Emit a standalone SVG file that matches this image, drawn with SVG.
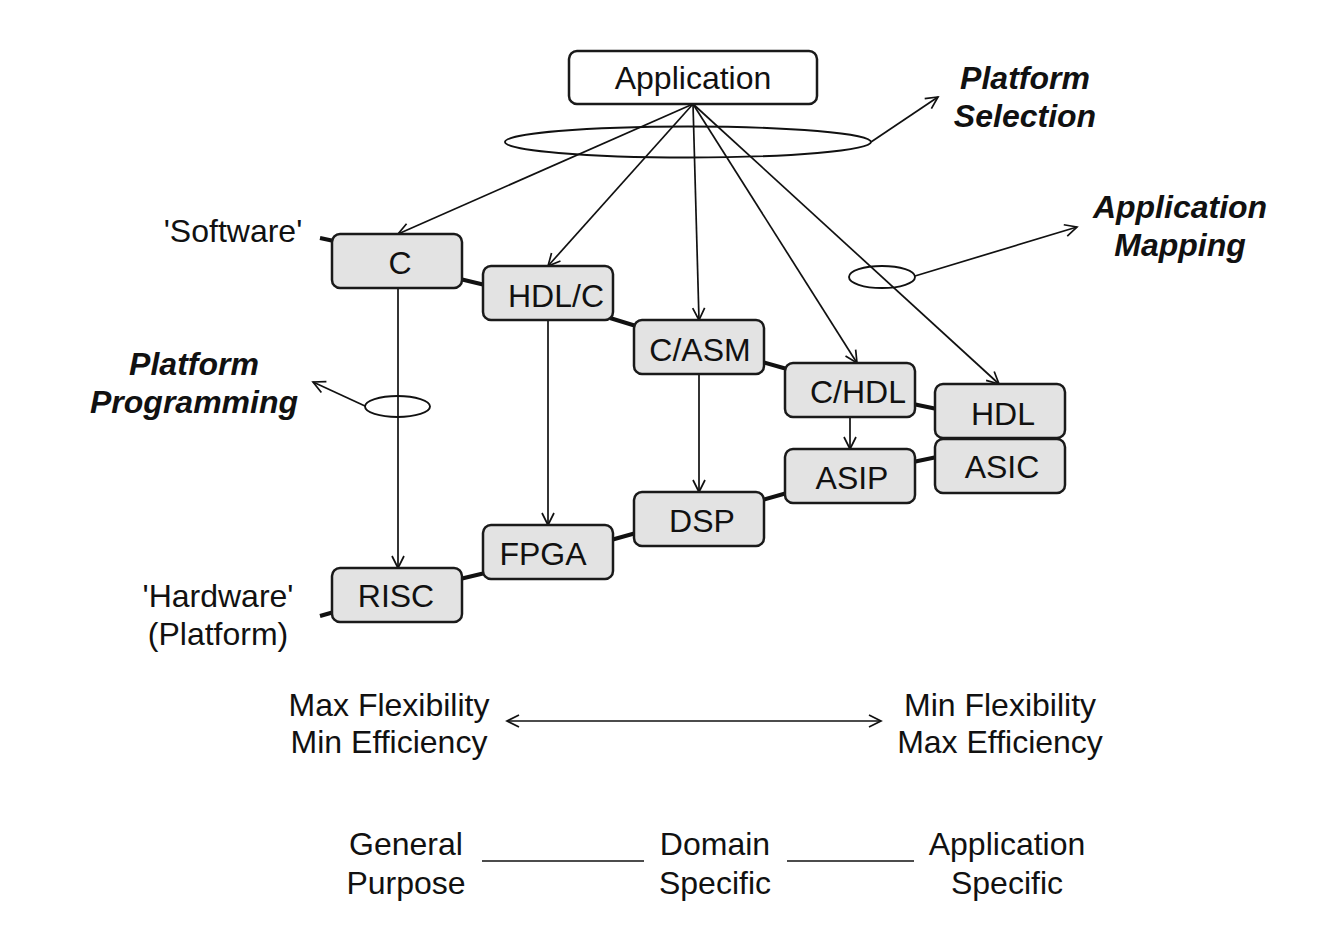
<svg xmlns="http://www.w3.org/2000/svg" width="1342" height="928" viewBox="0 0 1342 928">
<defs>
<marker id="vee" markerUnits="userSpaceOnUse" markerWidth="16" markerHeight="16" viewBox="0 0 16 16" refX="14" refY="8" orient="auto-start-reverse">
<path d="M2,2 L14,8 L2,14" fill="none" stroke="#111" stroke-width="1.7"/>
</marker>
<style>
.t{font-family:"Liberation Sans",Arial,sans-serif;font-size:32px;fill:#111;text-anchor:middle}
.bi{font-family:"Liberation Sans",Arial,sans-serif;font-size:32px;font-weight:bold;font-style:italic;fill:#111;text-anchor:middle}
.box{fill:#e3e3e3;stroke:#1a1a1a;stroke-width:2.5}
.app{fill:#fff;stroke:#1a1a1a;stroke-width:2.5}
.ln{stroke:#111;stroke-width:1.7;fill:none}
.arr{stroke:#111;stroke-width:1.7;fill:none;marker-end:url(#vee)}
.thick{stroke:#111;stroke-width:4;fill:none}
.ell{fill:none;stroke:#111;stroke-width:1.9}
</style>
</defs>

<g id="connectors">
<line class="thick" x1="320" y1="238" x2="334" y2="241"/>
<line class="thick" x1="460" y1="279" x2="485" y2="285"/>
<line class="thick" x1="610" y1="318" x2="636" y2="326"/>
<line class="thick" x1="762" y1="362" x2="787" y2="369"/>
<line class="thick" x1="913" y1="404" x2="937" y2="409"/>
<line class="thick" x1="913" y1="462" x2="937" y2="457"/>
<line class="thick" x1="762" y1="500" x2="787" y2="493"/>
<line class="thick" x1="611" y1="540" x2="636" y2="533"/>
<line class="thick" x1="460" y1="579" x2="485" y2="573"/>
<line class="thick" x1="320" y1="616" x2="334" y2="612"/>

<line class="arr" x1="693" y1="104" x2="398" y2="234"/>
<line class="arr" x1="693" y1="104" x2="548" y2="266"/>
<line class="arr" x1="693" y1="104" x2="699" y2="320"/>
<line class="arr" x1="693" y1="104" x2="857" y2="363"/>
<line class="arr" x1="693" y1="104" x2="999" y2="384"/>

<line class="arr" x1="398" y1="288" x2="398" y2="568"/>
<line class="arr" x1="548" y1="320" x2="548" y2="525"/>
<line class="arr" x1="699" y1="374" x2="699" y2="492"/>
<line class="arr" x1="850" y1="417" x2="850" y2="449"/>

<ellipse class="ell" cx="688" cy="142" rx="183" ry="15.5"/>
<line class="arr" x1="871" y1="142" x2="938" y2="97"/>
<ellipse class="ell" cx="397.5" cy="406.5" rx="32.5" ry="10.5"/>
<line class="arr" x1="365" y1="406" x2="313" y2="382"/>
<ellipse class="ell" cx="882" cy="277" rx="33" ry="11"/>
<line class="arr" x1="915" y1="276" x2="1077" y2="227"/>

<line class="ln" x1="507" y1="721" x2="881" y2="721" marker-start="url(#vee)" marker-end="url(#vee)"/>
<line class="ln" x1="482" y1="861" x2="644" y2="861"/>
<line class="ln" x1="787" y1="861" x2="914" y2="861"/>
</g>

<g id="n-application"><rect class="app" x="569" y="51" width="248" height="53" rx="8"/><text class="t" x="693" y="89">Application</text></g>
<g id="n-c"><rect class="box" x="332" y="234" width="130" height="54" rx="8"/><text class="t" x="400" y="274">C</text></g>
<g id="n-hdlc"><rect class="box" x="483" y="266" width="130" height="54" rx="8"/><text class="t" x="556" y="307">HDL/C</text></g>
<g id="n-casm"><rect class="box" x="634" y="320" width="130" height="54" rx="8"/><text class="t" x="700" y="361">C/ASM</text></g>
<g id="n-chdl"><rect class="box" x="785" y="363" width="130" height="54" rx="8"/><text class="t" x="858" y="403">C/HDL</text></g>
<g id="n-hdl"><rect class="box" x="935" y="384" width="130" height="54" rx="8"/><text class="t" x="1003" y="425">HDL</text></g>
<g id="n-asic"><rect class="box" x="935" y="439" width="130" height="54" rx="8"/><text class="t" x="1002" y="478">ASIC</text></g>
<g id="n-asip"><rect class="box" x="785" y="449" width="130" height="54" rx="8"/><text class="t" x="852" y="489">ASIP</text></g>
<g id="n-dsp"><rect class="box" x="634" y="492" width="130" height="54" rx="8"/><text class="t" x="702" y="532">DSP</text></g>
<g id="n-fpga"><rect class="box" x="483" y="525" width="130" height="54" rx="8"/><text class="t" x="543" y="565">FPGA</text></g>
<g id="n-risc"><rect class="box" x="332" y="568" width="130" height="54" rx="8"/><text class="t" x="396" y="607">RISC</text></g>

<g id="labels">
<text class="bi" x="1025" y="89">Platform</text>
<text class="bi" x="1025" y="127">Selection</text>
<text class="bi" x="1180" y="218">Application</text>
<text class="bi" x="1180" y="256">Mapping</text>
<text class="bi" x="194" y="375">Platform</text>
<text class="bi" x="194" y="413">Programming</text>
<text class="t" x="233" y="242">'Software'</text>
<text class="t" x="218" y="607">'Hardware'</text>
<text class="t" x="218" y="645">(Platform)</text>
<text class="t" x="389" y="716">Max Flexibility</text>
<text class="t" x="389" y="753">Min Efficiency</text>
<text class="t" x="1000" y="716">Min Flexibility</text>
<text class="t" x="1000" y="753">Max Efficiency</text>
<text class="t" x="406" y="855">General</text>
<text class="t" x="406" y="894">Purpose</text>
<text class="t" x="715" y="855">Domain</text>
<text class="t" x="715" y="894">Specific</text>
<text class="t" x="1007" y="855">Application</text>
<text class="t" x="1007" y="894">Specific</text>
</g>
</svg>
